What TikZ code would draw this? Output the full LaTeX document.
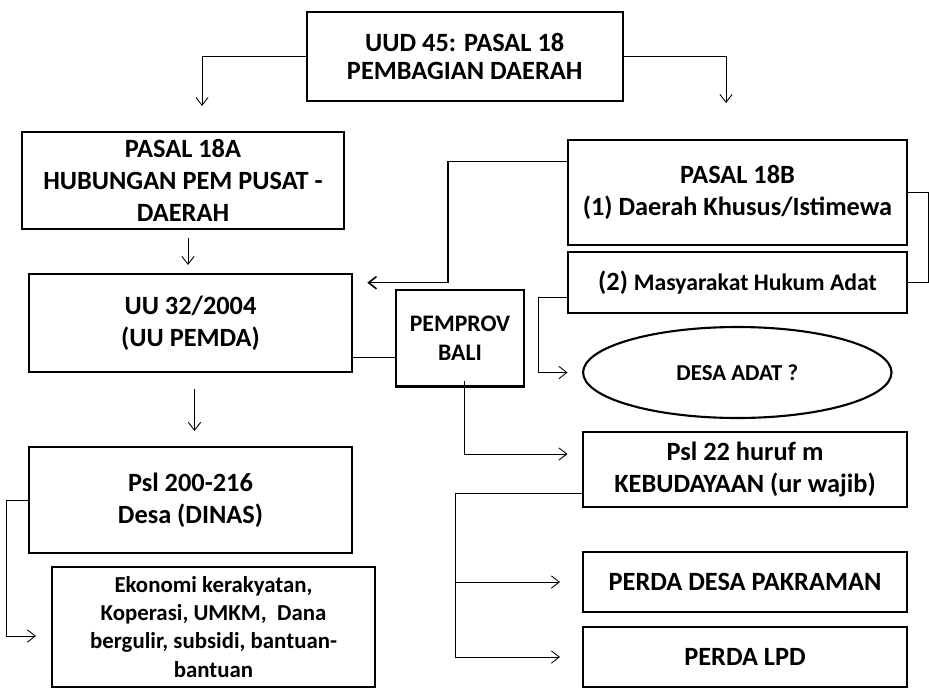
\documentclass[tikz,border=0pt]{standalone}
\usepackage{fontspec}
\setmainfont{Carlito}
\usetikzlibrary{arrows.meta, shapes.geometric}

\begin{document}
\begin{tikzpicture}[x=0.02cm, y=-0.02cm,
  box/.style={draw, line width=1.2pt, align=center, inner sep=0pt,
              font=\bfseries\fontsize{15}{18}\selectfont},
  smalltext/.style={font=\bfseries\fontsize{13.5}{16.5}\selectfont},
  arr/.style={-{Straight Barb[length=4.5pt,width=7pt]}, line width=0.5pt},
  conn/.style={line width=0.5pt},
  thickconn/.style={line width=0.9pt}
]
  \useasboundingbox (0,0) rectangle (929,696);

  % Boxes
  \node[box, minimum width=6.32cm, minimum height=1.78cm,
        font=\bfseries\fontsize{15}{15.5}\selectfont]
        (uud) at (464.7,56.5) {UUD 45: PASAL 18\\PEMBAGIAN DAERAH};
  \node[box, minimum width=6.44cm, minimum height=1.94cm]
        (a18) at (183,180.5) {PASAL 18A\\HUBUNGAN PEM PUSAT -\\DAERAH};
  \node[box, minimum width=6.46cm, minimum height=1.96cm]
        (uu32) at (190.5,323) {UU 32/2004\\(UU PEMDA)};
  \node[box, minimum width=6.77cm, minimum height=2.1cm]
        (b18) at (737.5,192.5) {PASAL 18B\\(1) Daerah Khusus/Istimewa};
  \node[box, minimum width=6.77cm, minimum height=1.23cm]
        (mha) at (737.5,282.5) {(2) {\fontsize{13.5}{16}\selectfont Masyarakat Hukum Adat}};
  \node[box, smalltext, minimum width=2.57cm, minimum height=1.93cm]
        (pemprov) at (460,338.3) {PEMPROV\\BALI};
  \node[box, ellipse, minimum width=6.17cm, minimum height=1.82cm,
        font=\bfseries\fontsize{13}{16}\selectfont]
        (adat) at (737.3,372.5) {DESA ADAT ?};
  \node[box, minimum width=6.48cm, minimum height=1.5cm]
        (psl22) at (745,469.5) {Psl 22 huruf m\\KEBUDAYAAN (ur wajib)};
  \node[box, minimum width=6.48cm, minimum height=1.2cm]
        (pakraman) at (745,582) {PERDA DESA PAKRAMAN};
  \node[box, minimum width=6.48cm, minimum height=1.2cm]
        (lpd) at (745,657) {PERDA LPD};
  \node[box, minimum width=6.46cm, minimum height=2.12cm]
        (psl200) at (190.5,500) {Psl 200-216\\Desa (DINAS)};
  \node[box, minimum width=6.46cm, minimum height=2.4cm,
        font=\bfseries\fontsize{13}{16}\selectfont]
        (ekonomi) at (213.5,627) {Ekonomi kerakyatan,\\Koperasi, UMKM,~~Dana\\bergulir, subsidi, bantuan-\\bantuan};

  % Free ends
  \coordinate (tl) at (202,106);
  \coordinate (tr) at (726,103);
  \coordinate (tu) at (367.3,282.7);

  % Arrows
  \draw[arr] (uud.west) -| (tl);
  \draw[arr] (uud.east) -| (tr);
  \draw[arr, shorten <=0.16cm, shorten >=0.16cm] ([xshift=0.1cm]a18.south) -- ([xshift=0.1cm]a18.south |- uu32.north);
  \draw[arr, thickconn] ([yshift=0.62cm]b18.west) -- ++(-119,0) |- (tu);
  \draw[thickconn] (b18.east) -- ++(21,0) |- (mha.east);
  \draw[conn] ([yshift=-0.69cm]uu32.east) coordinate (p) -- (p -| pemprov.west);
  \draw[arr, shorten >=0.29cm] ([yshift=-0.3cm]mha.west) -- ++(-29,0) |- (adat.west);
  \draw[arr, shorten >=0.29cm] ([xshift=0.09cm,yshift=0.13cm]pemprov.south) |- ([yshift=0.31cm]psl22.west);
  \draw[arr, shorten >=0.44cm] ([yshift=-0.47cm]psl22.west) -- ++(-127,0) coordinate (bus) |- (lpd.west);
  \draw[arr, shorten >=0.44cm] (bus |- pakraman.west) -- (pakraman.west);
  \draw[arr, shorten <=0.32cm, shorten >=0.3cm] ([xshift=0.08cm]uu32.south) -- ([xshift=0.08cm]psl200.north);
  \draw[arr, shorten >=0.3cm] (psl200.west) -- ++(-22,0) |- ([yshift=-0.18cm]ekonomi.west);

\end{tikzpicture}
\end{document}
